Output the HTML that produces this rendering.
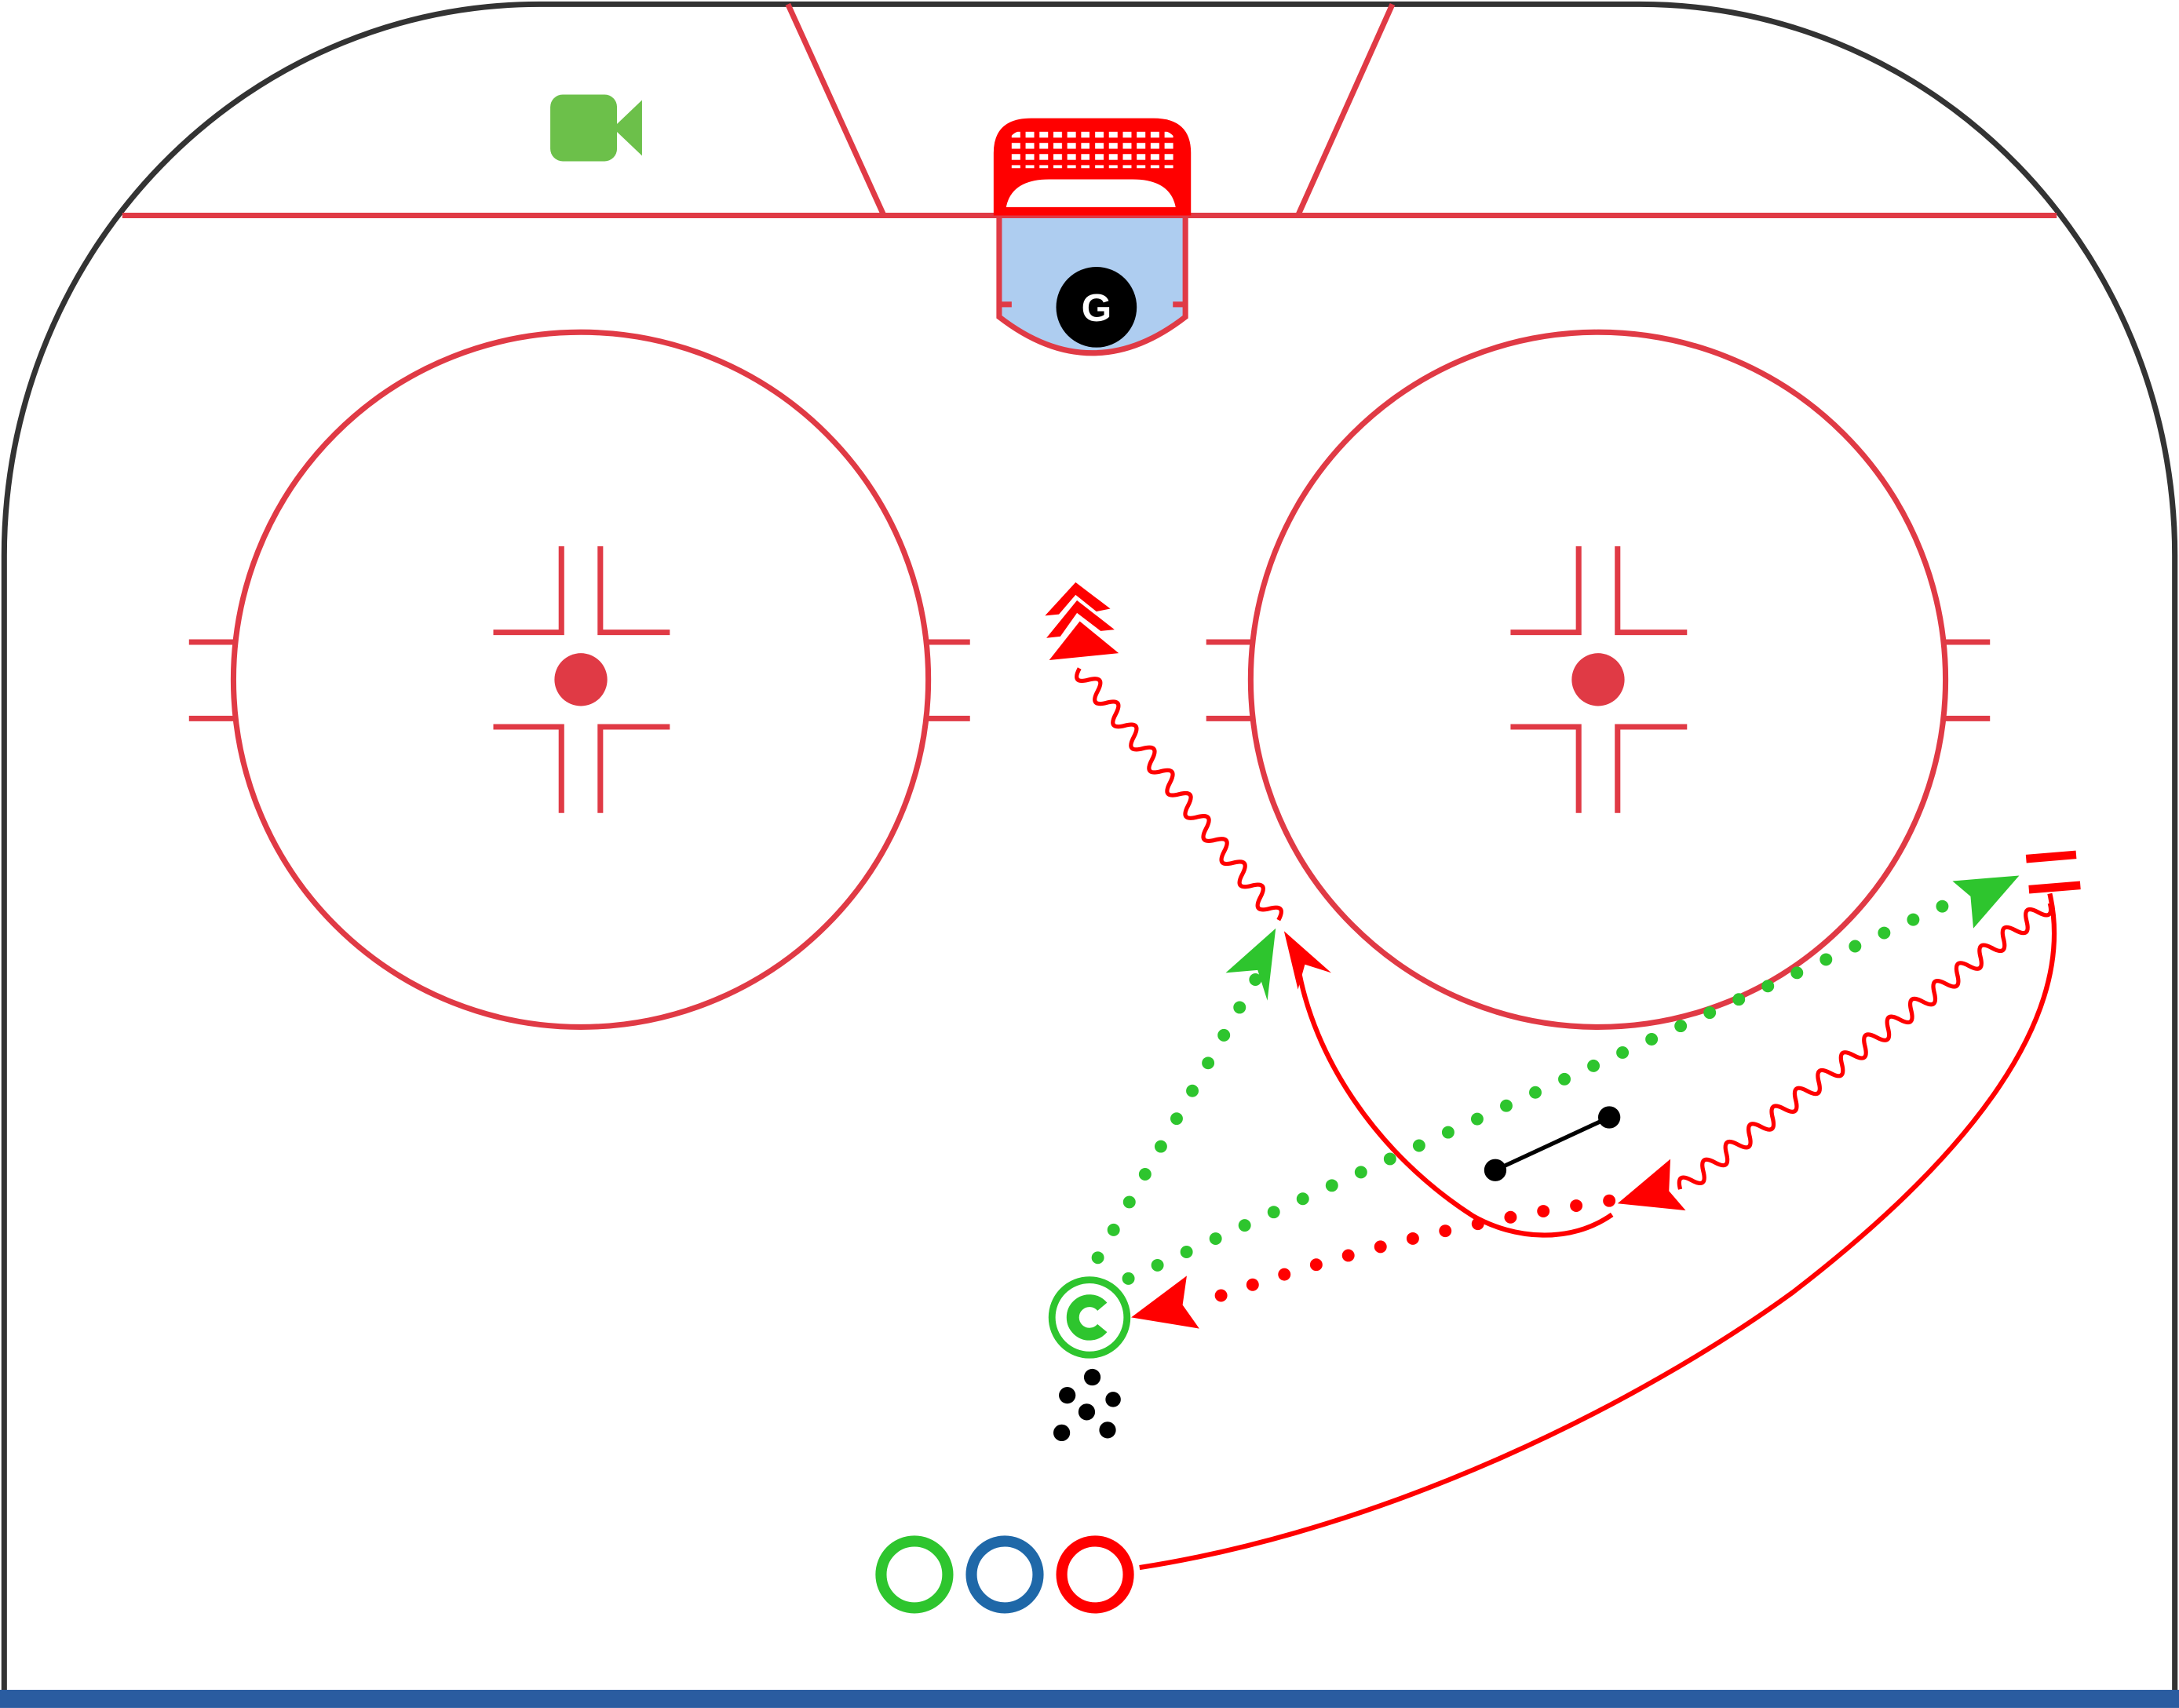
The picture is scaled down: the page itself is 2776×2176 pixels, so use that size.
<!DOCTYPE html>
<html><head><meta charset="utf-8"><style>html,body{margin:0;padding:0;background:#fff}svg{display:block}</style></head><body>
<svg width="2776" height="2176" viewBox="0 0 1568 1229" xmlns="http://www.w3.org/2000/svg">
<defs>
<pattern id="net" x="726" y="93" width="10" height="8" patternUnits="userSpaceOnUse"><rect x="2" y="1.8" width="6.2" height="4.2" fill="#fff"/></pattern>
</defs>
<rect width="1568" height="1229" fill="#fff"/>
<path d="M3,1226 L3,400 A385,397 0 0 1 388,3 L1180,3 A385,397 0 0 1 1565,400 L1565,1226" fill="none" stroke="#333" stroke-width="4"/>
<rect x="0" y="1216" width="1568" height="13" fill="#2a5ca0"/>
<g stroke="#e03a45" stroke-width="4" fill="none">
<line x1="88" y1="155" x2="1480" y2="155"/>
<line x1="567" y1="3" x2="636" y2="155"/>
<line x1="1002" y1="3" x2="934" y2="155"/>
<circle cx="418" cy="489" r="250"/>
<circle cx="1150" cy="489" r="250"/>
<path d="M136,462H168M136,517H168M668,462H698M668,517H698"/>
<path d="M868,462H900M868,517H900M1400,462H1432M1400,517H1432"/>
<path d="M404,393V455H355M432,393V455H482M404,585V523H355M432,585V523H482"/>
<path d="M1136,393V455H1087M1164,393V455H1214M1136,585V523H1087M1164,585V523H1214"/>
</g>
<circle cx="418" cy="489" r="19" fill="#e03a45"/>
<circle cx="1150" cy="489" r="19" fill="#e03a45"/>
<path d="M719,155 L719,228 Q786,280 853,228 L853,155 Z" fill="#aecdf0" stroke="#e03a45" stroke-width="4"/>
<path d="M720,219h8M852,219h-8" stroke="#e03a45" stroke-width="4"/>
<path d="M715,155 L715,110 Q715,85 742,85 L830,85 Q857,85 857,110 L857,155 Z" fill="#ff0000"/>
<path d="M726,121 L726,100 Q730,93 742,93 L830,93 Q842,93 846,100 L846,121 Z" fill="url(#net)"/>
<rect x="784" y="92" width="4" height="30" fill="#ff0000"/>
<path d="M724,149 Q728,129 755,129 L815,129 Q842,129 846,149 Z" fill="#fff"/>
<circle cx="789" cy="221" r="29" fill="#000"/>
<text x="789" y="231" font-family="Liberation Sans, sans-serif" font-weight="bold" font-size="28" fill="#fff" text-anchor="middle">G</text>
<rect x="396" y="68" width="48" height="48" rx="9" fill="#6cc04a"/>
<path d="M441,92 L462,72 L462,112 Z" fill="#6cc04a"/>
<path d="M820,1128 C1000,1100 1180,1010 1290,930 C1420,830 1495,730 1475,643" fill="none" stroke="#ff0000" stroke-width="3.5"/>
<path d="M1458,618 L1494,615 M1460,640 L1497,637" stroke="#ff0000" stroke-width="6"/>
<g fill="none" stroke="#2ec52e" stroke-width="9" stroke-linecap="round" stroke-dasharray="0 23">
<path d="M812,920 L1398,652"/>
<path d="M790,905 L905,702"/>
</g>
<polygon points="1453,630 1405,634 1418,645 1420,668" fill="#2ec52e"/>
<polygon points="918,668 882,700 905,698 912,720" fill="#2ec52e"/>
<path d="M1158,864 Q1010,885 868,936" fill="none" stroke="#ff0000" stroke-width="9" stroke-linecap="round" stroke-dasharray="0 24"/>
<polygon points="814,948 854,918 851,939 863,956" fill="#ff0000"/>
<path d="M1160,874 C1130,895 1090,892 1060,875 C990,830 945,760 934,695" fill="none" stroke="#ff0000" stroke-width="3.5"/>
<polygon points="924,670 958,700 939,694 934,712" fill="#ff0000"/>
<!-- red wavy 2 -->
<path d="M1475,650 c2.13,8.47 -0.64,10.61 -8.31,6.43 c-7.67,-4.19 -10.44,-2.05 -8.31,6.43 c2.13,8.47 -0.64,10.61 -8.31,6.43 c-7.67,-4.19 -10.44,-2.05 -8.31,6.43 c2.13,8.47 -0.64,10.61 -8.31,6.43 c-7.67,-4.19 -10.44,-2.05 -8.31,6.43 c2.13,8.47 -0.64,10.61 -8.31,6.43 c-7.67,-4.19 -10.44,-2.05 -8.31,6.43 c2.13,8.47 -0.64,10.61 -8.31,6.43 c-7.67,-4.19 -10.44,-2.05 -8.31,6.43 c2.13,8.47 -0.64,10.61 -8.31,6.43 c-7.67,-4.19 -10.44,-2.05 -8.31,6.43 c2.13,8.47 -0.64,10.61 -8.31,6.43 c-7.67,-4.19 -10.44,-2.05 -8.31,6.43 c2.13,8.47 -0.64,10.61 -8.31,6.43 c-7.67,-4.19 -10.44,-2.05 -8.31,6.43 c2.13,8.47 -0.64,10.61 -8.31,6.43 c-7.67,-4.19 -10.44,-2.05 -8.31,6.43 c2.13,8.47 -0.64,10.61 -8.31,6.43 c-7.67,-4.19 -10.44,-2.05 -8.31,6.43 c2.13,8.47 -0.64,10.61 -8.31,6.43 c-7.67,-4.19 -10.44,-2.05 -8.31,6.43 c2.13,8.47 -0.64,10.61 -8.31,6.43 c-7.67,-4.19 -10.44,-2.05 -8.31,6.43 c2.13,8.47 -0.64,10.61 -8.31,6.43 c-7.67,-4.19 -10.44,-2.05 -8.31,6.43 c2.13,8.47 -0.64,10.61 -8.31,6.43 c-7.67,-4.19 -10.44,-2.05 -8.31,6.43 c2.13,8.47 -0.64,10.61 -8.31,6.43 c-7.67,-4.19 -10.44,-2.05 -8.31,6.43 c2.13,8.47 -0.64,10.61 -8.31,6.43 c-7.67,-4.19 -10.44,-2.05 -8.31,6.43" fill="none" stroke="#ff0000" stroke-width="3"/>
<polygon points="1164,866 1202,834 1201,857 1213,871" fill="#ff0000"/>
<!-- red wavy 1 -->
<path d="M920,662 c4.10,-7.70 1.93,-10.45 -6.51,-8.23 c-8.44,2.22 -10.61,-0.53 -6.51,-8.23 c4.10,-7.70 1.93,-10.45 -6.51,-8.23 c-8.44,2.22 -10.61,-0.53 -6.51,-8.23 c4.10,-7.70 1.93,-10.45 -6.51,-8.23 c-8.44,2.22 -10.61,-0.53 -6.51,-8.23 c4.10,-7.70 1.93,-10.45 -6.51,-8.23 c-8.44,2.22 -10.61,-0.53 -6.51,-8.23 c4.10,-7.70 1.93,-10.45 -6.51,-8.23 c-8.44,2.22 -10.61,-0.53 -6.51,-8.23 c4.10,-7.70 1.93,-10.45 -6.51,-8.23 c-8.44,2.22 -10.61,-0.53 -6.51,-8.23 c4.10,-7.70 1.93,-10.45 -6.51,-8.23 c-8.44,2.22 -10.61,-0.53 -6.51,-8.23 c4.10,-7.70 1.93,-10.45 -6.51,-8.23 c-8.44,2.22 -10.61,-0.53 -6.51,-8.23 c4.10,-7.70 1.93,-10.45 -6.51,-8.23 c-8.44,2.22 -10.61,-0.53 -6.51,-8.23 c4.10,-7.70 1.93,-10.45 -6.51,-8.23 c-8.44,2.22 -10.61,-0.53 -6.51,-8.23 c4.10,-7.70 1.93,-10.45 -6.51,-8.23 c-8.44,2.22 -10.61,-0.53 -6.51,-8.23" fill="none" stroke="#ff0000" stroke-width="3"/>
<g fill="#ff0000">
<polygon points="777,447 805,470 755,475"/>
<polygon points="775,432 802,453 792,454 775,441 763,458 753,459"/>
<polygon points="774,419 799,438 789,440 774,428 762,442 752,443"/>
</g>
<line x1="1076" y1="842" x2="1158" y2="804" stroke="#000" stroke-width="3"/>
<circle cx="1076" cy="842" r="8" fill="#000"/>
<circle cx="1158" cy="804" r="8" fill="#000"/>
<circle cx="784" cy="948" r="27" fill="none" stroke="#2ec52e" stroke-width="5"/>
<path d="M793.2,940.3 A12,12 0 1 0 793.2,955.7" fill="none" stroke="#2ec52e" stroke-width="9"/>
<g fill="#000">
<circle cx="786" cy="991" r="6"/><circle cx="768" cy="1004" r="6"/><circle cx="801" cy="1007" r="5.5"/>
<circle cx="782" cy="1016" r="6"/><circle cx="764" cy="1031" r="6"/><circle cx="797" cy="1029" r="6"/>
</g>
<circle cx="658" cy="1133" r="24" fill="none" stroke="#2ec52e" stroke-width="8"/>
<circle cx="723" cy="1133" r="24" fill="none" stroke="#1f68a8" stroke-width="8"/>
<circle cx="788" cy="1133" r="24" fill="none" stroke="#ff0000" stroke-width="8"/>
</svg>
</body></html>
